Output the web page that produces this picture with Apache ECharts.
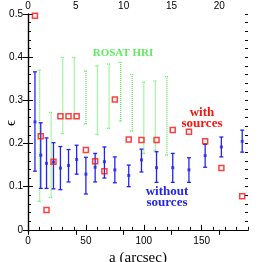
<!DOCTYPE html>
<html><head><meta charset="utf-8">
<script src="https://cdn.jsdelivr.net/npm/echarts@6/dist/echarts.min.js"></script>
<style>html,body{margin:0;padding:0;background:#fff}#c{width:262px;height:262px}</style>
</head><body><div id="c"></div>
<script>
// a (arcsec) bin centres shared by the two samples
const aBins        = [6, 11, 16, 22, 28, 35, 42, 50, 58, 66, 75, 87, 98, 111, 125, 139, 153, 167, 185];
// "with sources" (red open squares)
const withSources  = [0.496, 0.217, 0.046, 0.158, 0.263, 0.263, 0.263, 0.185, 0.159, 0.136, 0.302, 0.209, 0.208, 0.208, 0.231, 0.227, 0.205, 0.143, 0.078];
// "without sources" (blue points with error bars)
const withoutMean  = [0.250, 0.173, 0.154, 0.157, 0.143, 0.149, 0.163, 0.129, 0.145, 0.158, 0.139, 0.126, 0.162, 0.144, 0.144, 0.139, 0.172, 0.192, 0.205];
const withoutLow   = [0.136, 0.096, 0.096, 0.095, 0.093, 0.111, 0.129, 0.083, 0.111, 0.120, 0.109, 0.100, 0.134, 0.110, 0.110, 0.110, 0.145, 0.169, 0.180];
const withoutHigh  = [0.366, 0.248, 0.213, 0.202, 0.193, 0.186, 0.196, 0.168, 0.177, 0.192, 0.169, 0.150, 0.187, 0.181, 0.177, 0.167, 0.198, 0.215, 0.231];
// ROSAT HRI ranges (green dotted bars)
const hriA         = [10, 20, 30, 40, 50, 60, 70, 80, 90, 100, 110, 120];
const hriLow       = [0.066, 0.075, 0.223, 0.258, 0.245, 0.221, 0.235, 0.252, 0.229, 0.177, 0.184, 0.173];
const hriHigh      = [0.370, 0.272, 0.399, 0.399, 0.368, 0.380, 0.384, 0.388, 0.360, 0.342, 0.345, 0.355];
// tick labels
const bottomTicks  = [0, 50, 100, 150];
const topTicks     = [0, 5, 10, 15, 20];
const yTicks       = [0, 0.1, 0.2, 0.3, 0.4, 0.5];

const bottomMinor = []; for (let v = 0; v <= 190; v += 10) bottomMinor.push(v);
const yMinor = []; for (let i = 0; i <= 25; i++) yMinor.push(+(i * 0.02).toFixed(2));

const BLUE = '#2424f0', RED = '#ff1010', GREEN = '#5cee5c';
const XMAX = 190, TOPMAX = 23, YMIN = -0.005, YMAX = 0.5;

function errBar(color, dashed, cap, lw) {
  return function (params, api) {
    const x = api.value(0), lo = api.value(1), hi = api.value(2);
    const pLo = api.coord([x, lo]), pHi = api.coord([x, hi]);
    const style = { stroke: color, lineWidth: lw, lineDash: dashed ? [1, 1] : null, fill: null };
    return { type: 'group', children: [
      { type: 'line', shape: { x1: pLo[0], y1: pLo[1], x2: pHi[0], y2: pHi[1] }, style: style },
      { type: 'line', shape: { x1: pLo[0] - cap, y1: pLo[1], x2: pLo[0] + cap, y2: pLo[1] }, style: style },
      { type: 'line', shape: { x1: pHi[0] - cap, y1: pHi[1], x2: pHi[0] + cap, y2: pHi[1] }, style: style }
    ]};
  };
}

const lineStyle = { color: '#000', width: 1.2 };
const labelFont = { fontSize: 10, color: '#000', fontFamily: '"Liberation Sans", Arial, sans-serif' };

const chart = echarts.init(document.getElementById('c'), null, { renderer: 'canvas' });
chart.setOption({
  animation: false,
  backgroundColor: '#fff',
  grid: { left: 28, right: 14, top: 14, bottom: 30, containLabel: false, outerBoundsMode: 'none' },
  xAxis: [
    { type: 'value', position: 'bottom', min: 0, max: XMAX,
      axisLine: { show: true, lineStyle: lineStyle },
      axisTick: { show: true, inside: true, length: 5, customValues: bottomTicks, lineStyle: { color: '#000' } },
      axisLabel: Object.assign({ customValues: bottomTicks, margin: 4 }, labelFont),
      splitLine: { show: false },
      name: 'a (arcsec)', nameLocation: 'middle', nameGap: 12,
      nameTextStyle: { fontSize: 15, color: '#000', fontFamily: '"Liberation Serif", "Times New Roman", serif' } },
    { type: 'value', position: 'bottom', min: 0, max: XMAX,
      axisLine: { show: false },
      axisTick: { show: true, inside: true, length: 3, customValues: bottomMinor, lineStyle: { color: '#000' } },
      axisLabel: { show: false }, splitLine: { show: false } },
    { type: 'value', position: 'top', min: 0, max: TOPMAX,
      axisLine: { show: true, lineStyle: lineStyle },
      axisTick: { show: true, inside: true, length: 5, customValues: topTicks, lineStyle: { color: '#000' } },
      axisLabel: Object.assign({ customValues: topTicks, margin: 3 }, labelFont),
      splitLine: { show: false } }
  ],
  yAxis: [
    { type: 'value', position: 'left', min: YMIN, max: YMAX,
      axisLine: { show: true, lineStyle: lineStyle },
      axisTick: { show: true, inside: true, length: 5, customValues: yTicks, lineStyle: { color: '#000' } },
      axisLabel: Object.assign({ customValues: yTicks, margin: 5, formatter: function (v) { return Math.abs(v) < 1e-9 ? '0' : v.toFixed(1); } }, labelFont),
      splitLine: { show: false } },
    { type: 'value', position: 'left', min: YMIN, max: YMAX,
      axisLine: { show: false },
      axisTick: { show: true, inside: true, length: 3, customValues: yMinor, lineStyle: { color: '#000' } },
      axisLabel: { show: false }, splitLine: { show: false } },
    { type: 'value', position: 'right', min: YMIN, max: YMAX,
      axisLine: { show: true, lineStyle: lineStyle },
      axisTick: { show: true, inside: true, length: 5, customValues: yTicks, lineStyle: { color: '#000' } },
      axisLabel: { show: false }, splitLine: { show: false } },
    { type: 'value', position: 'right', min: YMIN, max: YMAX,
      axisLine: { show: false },
      axisTick: { show: true, inside: true, length: 3, customValues: yMinor, lineStyle: { color: '#000' } },
      axisLabel: { show: false }, splitLine: { show: false } }
  ],
  series: [
    { type: 'custom', name: 'ROSAT HRI', xAxisIndex: 0, yAxisIndex: 0,
      renderItem: errBar(GREEN, true, 2, 1.3),
      encode: { x: 0, y: [1, 2] },
      data: hriA.map(function (a, i) { return [a, hriLow[i], hriHigh[i]]; }), z: 2 },
    { type: 'custom', name: 'without sources bars', xAxisIndex: 0, yAxisIndex: 0,
      renderItem: errBar(BLUE, false, 2, 1.3),
      encode: { x: 0, y: [1, 2] },
      data: aBins.map(function (a, i) { return [a, withoutLow[i], withoutHigh[i]]; }), z: 3 },
    { type: 'scatter', name: 'without sources', xAxisIndex: 0, yAxisIndex: 0,
      symbol: 'rect', symbolSize: 3, itemStyle: { color: BLUE },
      data: aBins.map(function (a, i) { return [a, withoutMean[i]]; }), z: 4 },
    { type: 'scatter', name: 'with sources', xAxisIndex: 0, yAxisIndex: 0,
      symbol: 'rect', symbolSize: 5,
      itemStyle: { color: 'rgba(255,255,255,0)', borderColor: RED, borderWidth: 1.5 },
      data: aBins.map(function (a, i) { return [a, withSources[i]]; }), z: 5 }
  ],
  graphic: [
    { type: 'text', x: 11, y: 123, rotation: Math.PI / 2, z: 10,
      style: { text: 'ϵ', fill: '#000', font: '15px "Liberation Serif", serif', align: 'center', verticalAlign: 'middle' } },
    { type: 'text', x: 123, y: 53, z: 10,
      style: { text: 'ROSAT HRI', fill: GREEN, font: 'bold 11px "Liberation Serif", serif', align: 'center', verticalAlign: 'middle' } },
    { type: 'text', x: 202, y: 118, z: 10,
      style: { text: 'with\nsources', fill: RED, font: 'bold 13px "Liberation Serif", serif', lineHeight: 11, align: 'center', verticalAlign: 'middle' } },
    { type: 'text', x: 167, y: 197, z: 10,
      style: { text: 'without\nsources', fill: BLUE, font: 'bold 13px "Liberation Serif", serif', lineHeight: 11, align: 'center', verticalAlign: 'middle' } }
  ]
});
</script>
</body></html>
